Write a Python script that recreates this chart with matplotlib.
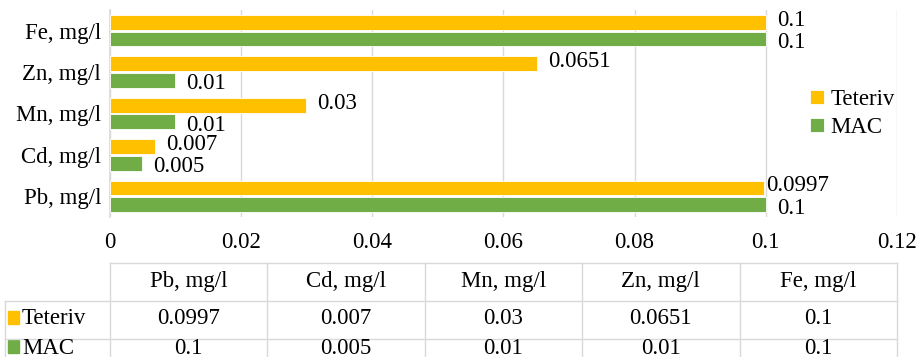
import matplotlib
matplotlib.use("Agg")
import matplotlib.pyplot as plt
import numpy as np

categories = ["Pb, mg/l", "Cd, mg/l", "Mn, mg/l", "Zn, mg/l", "Fe, mg/l"]
teteriv = [0.0997, 0.007, 0.03, 0.0651, 0.1]
mac = [0.1, 0.005, 0.01, 0.01, 0.1]
teteriv_lbl = ["0.0997", "0.007", "0.03", "0.0651", "0.1"]
mac_lbl = ["0.1", "0.005", "0.01", "0.01", "0.1"]
series = ["Teteriv", "MAC"]
xticks = [0, 0.02, 0.04, 0.06, 0.08, 0.1, 0.12]
xtick_lbl = ["0", "0.02", "0.04", "0.06", "0.08", "0.1", "0.12"]

c_tet = "#FFC000"
c_mac = "#70AD47"
grid_c = "#D9D9D9"
fs = 16.5

plt.rcParams["font.family"] = ["Liberation Serif", "DejaVu Serif"]

W, H = 917, 357
fig = plt.figure(figsize=(W / 100, H / 100), dpi=100)

x0, x1 = 109.5, 897
y0, y1 = 10, 217
ax = fig.add_axes([x0 / W, 1 - y1 / H, (x1 - x0) / W, (y1 - y0) / H])

y = np.arange(len(categories))
bh = 0.36
off = 0.2
b1 = ax.barh(y + off, teteriv, height=bh, color=c_tet, edgecolor="white", linewidth=0.6, label=series[0], zorder=3)
b2 = ax.barh(y - off, mac, height=bh, color=c_mac, edgecolor="white", linewidth=0.6, label=series[1], zorder=3)

# excel-like label placement: top bar label nudged up, lower one down
for bars, labels, dy in ((b1, teteriv_lbl, 1.5), (b2, mac_lbl, -2.5)):
    for b, t in zip(bars, labels):
        dx = 1.5 if t == "0.0997" else 8
        ax.annotate(t, (b.get_width(), b.get_y() + b.get_height() / 2),
                    xytext=(dx, dy), textcoords="offset points",
                    ha="left", va="center", fontsize=fs)

ax.set_xlim(0, 0.12)
ax.set_ylim(-0.5, 4.5)
ax.set_xticks(xticks)
ax.set_xticklabels(xtick_lbl)
ax.set_yticks(y)
ax.set_yticklabels(categories)
ax.tick_params(length=0, labelsize=fs)
ax.tick_params(axis="x", pad=11)
ax.tick_params(axis="y", pad=6)
ax.grid(axis="x", color=grid_c, linewidth=1, zorder=0)
for s in ["top", "right", "bottom"]:
    ax.spines[s].set_visible(False)
ax.spines["left"].set_color(grid_c)
ax.spines["left"].set_linewidth(1.2)

ax.legend(loc="center left", bbox_to_anchor=(0.878, 0.5), frameon=False,
          fontsize=fs, handlelength=0.6, handleheight=0.6, handletextpad=0.3,
          labelspacing=0.3, borderaxespad=0)

# data table drawn in pixel coordinates
tx = fig.add_axes([0, 0, 1, 1], zorder=-1)
tx.set_xlim(0, W)
tx.set_ylim(H, 0)
tx.axis("off")
ncol = len(categories)
cw = (x1 - x0) / ncol
rows = [263, 301, 339, 377]
edges = [x0 + i * cw for i in range(ncol + 1)]
tx.plot([x0, x1], [rows[0], rows[0]], color=grid_c, lw=1)
for r in rows[1:3]:
    tx.plot([5, x1], [r, r], color=grid_c, lw=1)
for e in edges:
    tx.plot([e, e], [rows[0], H], color=grid_c, lw=1)
tx.plot([5, 5], [rows[1], H], color=grid_c, lw=1)

for i, cat in enumerate(categories):
    cx = edges[i] + cw / 2
    tx.text(cx, 282, cat, ha="center", va="center", fontsize=fs)
    tx.text(cx, 319, teteriv_lbl[i], ha="center", va="center", fontsize=fs)
    tx.text(cx, 348, mac_lbl[i], ha="center", va="center", fontsize=fs)

for name, col, ry in ((series[0], c_tet, 319), (series[1], c_mac, 348)):
    tx.add_patch(plt.Rectangle((8, ry - 8), 11, 13, color=col))
    tx.text(22, ry, name, ha="left", va="center", fontsize=fs)

fig.savefig("out.png", dpi=100)
